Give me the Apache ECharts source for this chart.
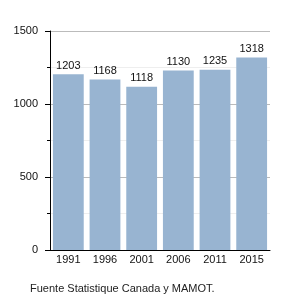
<!DOCTYPE html>
<html><head><meta charset="utf-8">
<script src="https://cdn.jsdelivr.net/npm/echarts@6/dist/echarts.min.js"></script>
<style>html,body{margin:0;padding:0;background:#fff}#c{width:300px;height:300px}</style>
</head><body><div id="c"></div>
<script>
var categories = ["1991","1996","2001","2006","2011","2015"];
var values = [1203, 1168, 1118, 1230, 1235, 1318];
var valueLabels = ["1203","1168","1118","1130","1235","1318"];
var yTicks = [0, 500, 1000, 1500];
var sourceText = "Fuente Statistique Canada y MAMOT.";

var chart = echarts.init(document.getElementById('c'), null, {renderer:'canvas'});
chart.setOption({
  animation:false,
  textStyle:{fontFamily:'Liberation Sans'},
  grid:{left:50,right:30,top:31,bottom:50},
  graphic:[{type:'text',left:30,top:283,style:{text:sourceText,font:'11px "Liberation Sans"',fill:'#222'}}],
  xAxis:{type:'category',data:categories,
    axisLine:{lineStyle:{color:'#000',width:1}},
    axisTick:{show:false},
    axisLabel:{color:'#111',fontSize:11,margin:4}},
  yAxis:{type:'value',min:yTicks[0],max:yTicks[yTicks.length-1],interval:500,
    axisLine:{show:true,lineStyle:{color:'#000',width:1}},
    axisTick:{show:true,inside:false,length:5,lineStyle:{color:'#000'}},
    minorTick:{show:true,splitNumber:2,length:3,lineStyle:{color:'#000'}},
    minorSplitLine:{show:true,lineStyle:{color:'#eee'}},
    splitLine:{show:true,lineStyle:{color:'#bbb'}},
    axisLabel:{color:'#111',fontSize:11,margin:12,formatter:function(v){return String(v);}}},
  series:[{type:'bar',data:values,barCategoryGap:'16%',
    itemStyle:{color:'#98b4d1'},
    label:{show:true,position:'top',color:'#111',fontSize:11,distance:3,
      formatter:function(p){return valueLabels[p.dataIndex];}}}]
});
</script></body></html>
